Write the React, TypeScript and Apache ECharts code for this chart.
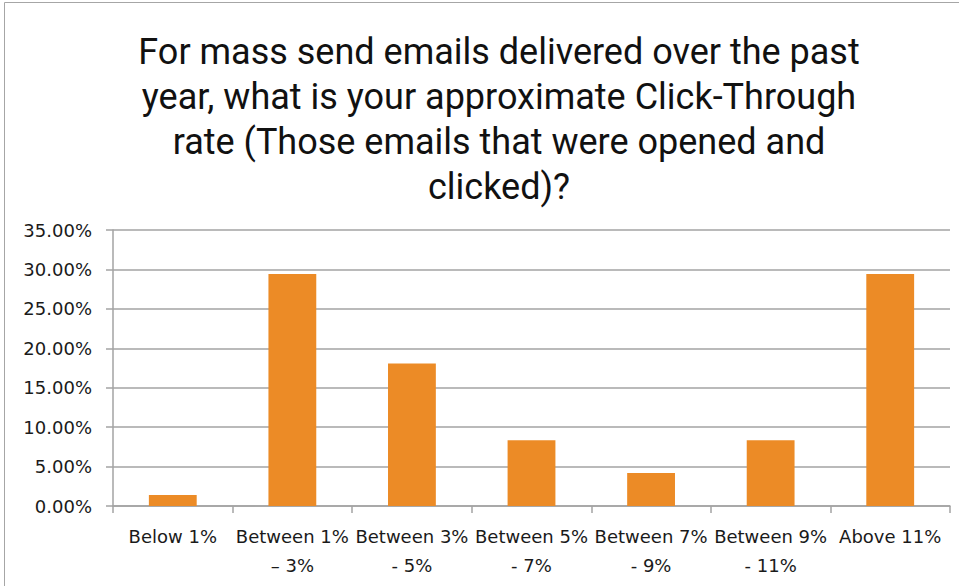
import React, { useEffect, useRef } from "react";
import * as echarts from "echarts";

const titleText =
  "For mass send emails delivered over the past\nyear, what is your approximate Click-Through\nrate (Those emails that were opened and\nclicked)?";

const categories = [
  "Below 1%",
  "Between 1%\n– 3%",
  "Between 3%\n- 5%",
  "Between 5%\n- 7%",
  "Between 7%\n- 9%",
  "Between 9%\n- 11%",
  "Above 11%",
];

const values = [1.39, 29.41, 18.06, 8.33, 4.17, 8.33, 29.41];

const yMin = 0;
const yMax = 35;
const yInterval = 5;

export default function App() {
  const ref = useRef<HTMLDivElement>(null);

  useEffect(() => {
    if (!ref.current) return;
    const chart = echarts.init(ref.current, undefined, { renderer: "svg" });
    const axisGray = "#A3A3A3";
    chart.setOption({
      animation: false,
      backgroundColor: "#ffffff",
      title: {
        text: titleText,
        left: 494,
        top: 24,
        textAlign: "center",
        textStyle: {
          fontFamily: "Roboto",
          fontSize: 36,
          fontWeight: "normal",
          lineHeight: 45,
          color: "#111111",
        },
      },
      graphic: [
        {
          type: "rect",
          shape: { x: 4.5, y: 2.5, width: 1000, height: 700 },
          style: { fill: "none", stroke: "#A6A6A6", lineWidth: 1 },
          silent: true,
          z: -1,
        },
      ],
      grid: { left: 113, right: 9, top: 230, bottom: 80, containLabel: false },
      xAxis: {
        type: "category",
        data: categories,
        axisLine: { show: true, lineStyle: { color: axisGray, width: 1.5 } },
        axisTick: { show: true, alignWithLabel: false, length: 7, lineStyle: { color: axisGray, width: 1.5 } },
        axisLabel: {
          interval: 0,
          margin: 16,
          fontFamily: "DejaVu Sans",
          fontSize: 18,
          lineHeight: 29,
          color: "#1a1a1a",
        },
      },
      yAxis: {
        type: "value",
        min: yMin,
        max: yMax,
        interval: yInterval,
        axisLine: { show: true, lineStyle: { color: axisGray, width: 1.5 } },
        axisTick: { show: true, length: 7, lineStyle: { color: axisGray, width: 1.5 } },
        splitLine: { show: true, lineStyle: { color: axisGray, width: 1.5 } },
        axisLabel: {
          margin: 21,
          fontFamily: "DejaVu Sans",
          fontSize: 18,
          color: "#1a1a1a",
          formatter: (v: number) => v.toFixed(2) + "%",
        },
      },
      series: [
        {
          type: "bar",
          data: values,
          barWidth: "40%",
          itemStyle: { color: "#EC8B26" },
        },
      ],
    });
    return () => chart.dispose();
  }, []);

  return <div ref={ref} style={{ width: 959, height: 586, position: "absolute", left: 0, top: 0 }} />;
}
